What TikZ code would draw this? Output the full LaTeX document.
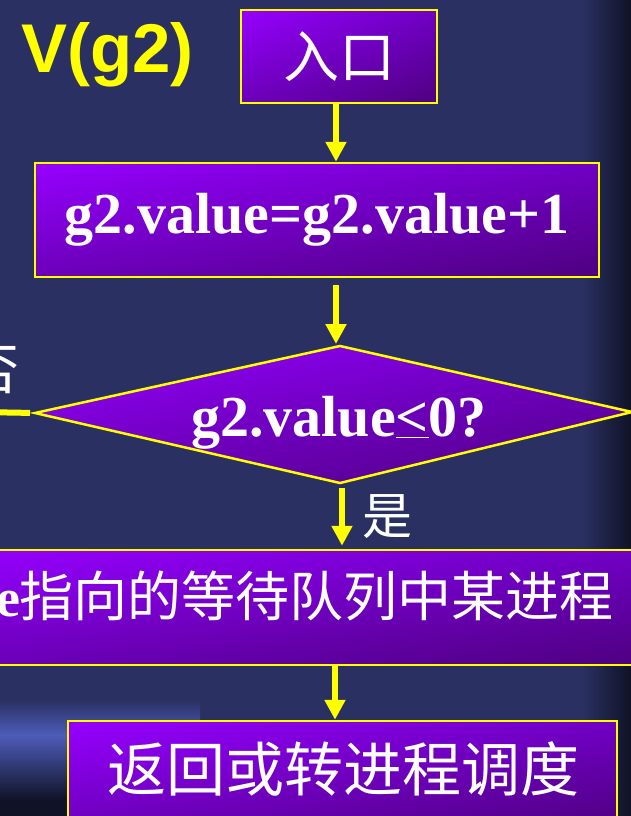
\documentclass[tikz,border=0pt]{standalone}
\usepackage{fontspec}
\setmainfont{Liberation Serif}
\newfontfamily\cjk{Noto Sans CJK SC}
\newfontfamily\titlefont{Liberation Sans}
\newfontfamily\latinb{Liberation Serif}
\usetikzlibrary{arrows.meta,shadings}
\definecolor{bgblue}{RGB}{42,49,98}
\definecolor{bgdark}{RGB}{16,18,38}
\definecolor{bandblue}{RGB}{78,92,185}
\definecolor{yel}{RGB}{255,255,0}
\definecolor{pA}{RGB}{150,0,255}
\definecolor{pB}{RGB}{112,0,196}
\definecolor{pC}{RGB}{108,0,186}
\definecolor{pD}{RGB}{78,0,128}
\begin{document}
\begin{tikzpicture}[x=1pt,y=-1pt,
  box/.style={draw=yel, line width=2.5pt, upper left=pA, upper right=pB,
    lower left=pC, lower right=pD, inner sep=0pt, text=white},
  flow/.style={draw=yel, line width=6pt, -{Triangle[width=20pt,length=20pt]}},
  plain/.style={draw=yel, line width=6pt},
  cjktext/.style={text=white, inner sep=0pt, font=\cjk\fontsize{#1}{#1}\selectfont},
  latin/.style={text=white, inner sep=0pt, font=\bfseries\fontsize{58pt}{60pt}\selectfont}]
\useasboundingbox (0,0) rectangle (631,816);
\clip (0,0) rectangle (631,816);
% background
\fill[bgblue] (0,0) rectangle (631,816);
\shade[left color=bgblue, right color=bgdark] (582,0) rectangle (631,816);
\shade[top color=bgblue, bottom color=bandblue] (0,700) rectangle (200,735);
\shade[top color=bandblue, bottom color=bgdark] (0,735) rectangle (200,800);
\fill[bgdark] (0,800) rectangle (200,816);
% title
\node[anchor=base west, text=yel, inner sep=0pt,
  font=\titlefont\bfseries\fontsize{69pt}{70pt}\selectfont] (title) at (21,72) {V(g2)};
% boxes
\node[box, minimum width=196pt, minimum height=93pt,
  font=\cjk\fontsize{56pt}{56pt}\selectfont] (entry) at (339,56.5) {入口};
\node[box, minimum width=564pt, minimum height=114pt,
  font=\bfseries\fontsize{58pt}{60pt}\selectfont] (box2) at (317,220) {g2.value=g2.value+1};
% decision
\coordinate (dT) at (340,346);
\coordinate (dR) at (632,412);
\coordinate (dB) at (340,483);
\coordinate (dL) at (35,413);
\path[draw=yel, line width=2.5pt, upper left=pA, upper right=pB, lower left=pC, lower right=pD]
  (dT) -- (dR) -- (dB) -- (dL) -- cycle;
\node[latin, anchor=base] (dtext) at (339,436) {g2.value\underline{<}0?};
\node[box, minimum width=676pt, minimum height=115pt] (box3) at (303,607.5) {};
\node[cjktext=54pt] (box3txt) at (305,596) {{\latinb\bfseries e}指向的等待队列中某进程};
\node[box, minimum width=549pt, minimum height=108pt] (box4) at (342.5,775) {};
\node[cjktext=59pt] (box4txt) at (343,769) {返回或转进程调度};
% labels
\node[cjktext=50pt] (yes) at (387,517) {是};
\node[cjktext=55pt] (no) at (-8,370) {否};
\coordinate (lexit) at (-20,412);
% connectors
\draw[flow] ([xshift=-3pt]entry.south) -- ([xshift=-3pt]entry.south |- box2.north);
\draw[flow, shorten <=7pt, shorten >=2pt] ([xshift=19pt]box2.south) -- ([xshift=19pt]box2.south |- dT);
\draw[flow, shorten <=5pt, shorten >=3pt] ([xshift=2pt]dB) -- ([xshift=2pt]dB |- box3.north);
\draw[flow] ([xshift=32pt]box3.south) -- ([xshift=32pt]box3.south |- box4.north);
\draw[plain, shorten <=5pt] (dL) -- (lexit);
\end{tikzpicture}
\end{document}
